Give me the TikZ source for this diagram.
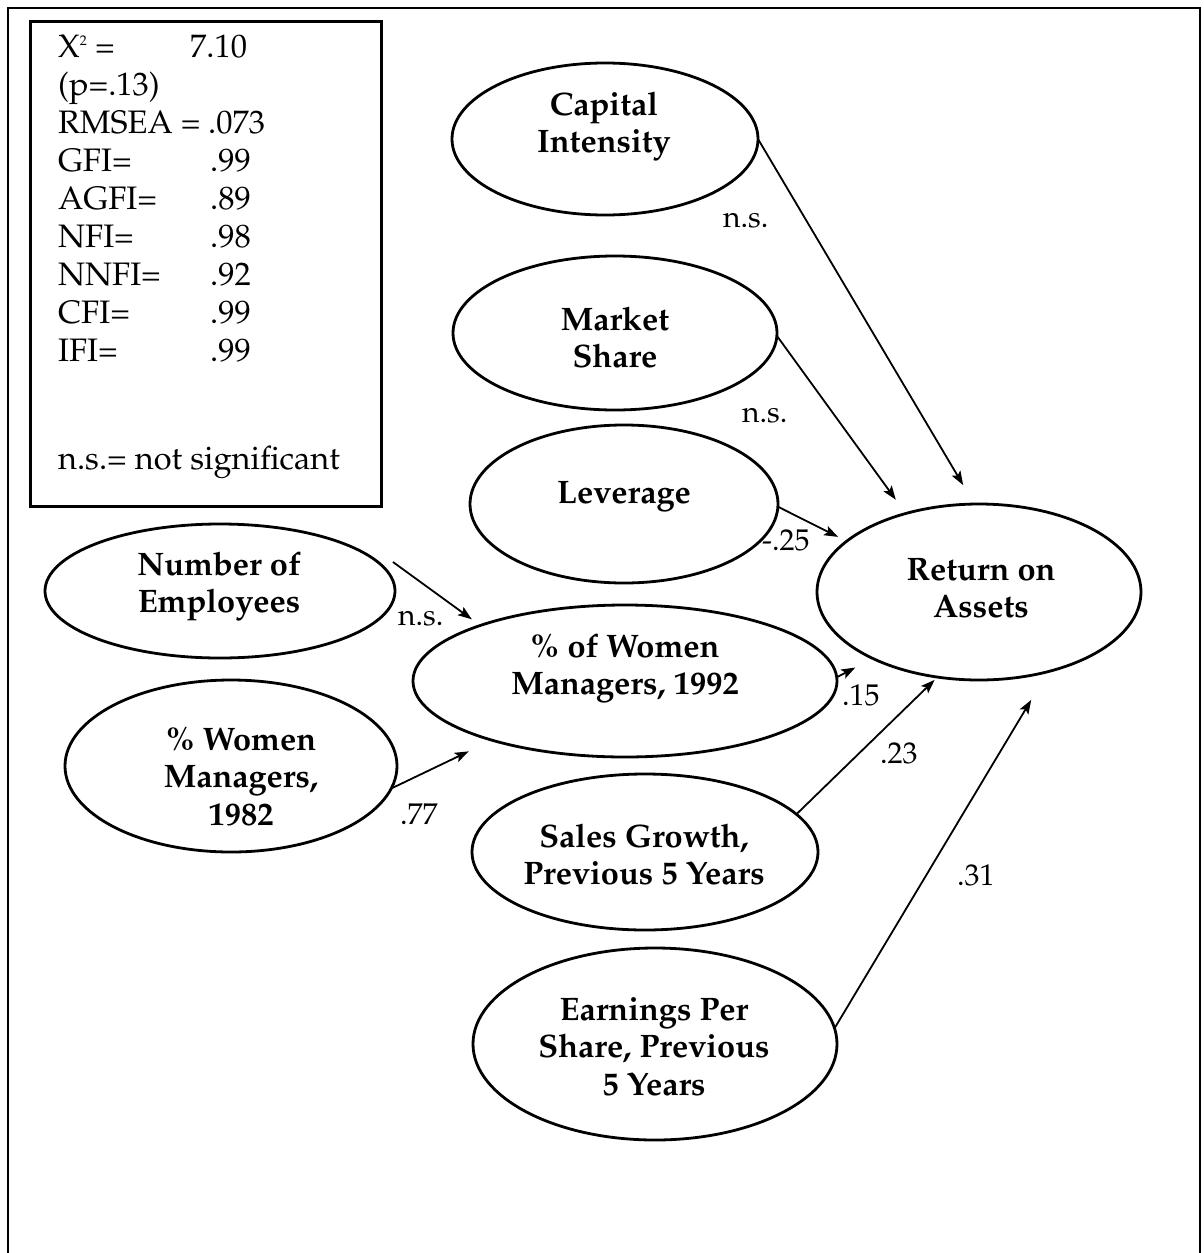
\documentclass[tikz,border=0pt]{standalone}
\usepackage[T1]{fontenc}
\usepackage{mathpazo}
\usetikzlibrary{shapes.geometric,arrows.meta}
\begin{document}
\begin{tikzpicture}[x=1pt,y=-1pt,
  lv/.style={ellipse,draw,line width=2.8pt,inner sep=0pt,outer sep=0pt},
  lvtext/.style={anchor=base,inner sep=0pt,font=\fontsize{32.5}{37.5}\selectfont\bfseries},
  stat/.style={anchor=base west,inner sep=0pt,font=\fontsize{32.5}{38}\selectfont},
  coef/.style={anchor=base west,inner sep=0pt,font=\fontsize{30}{36}\selectfont},
  arr/.style={line width=1.8pt,-{Stealth[length=14pt,width=10pt,inset=3pt]}}]
\useasboundingbox (0,0) rectangle (1204,1253);
\fill[white] (0,0) rectangle (1204,1253);
% outer frame
\draw[line width=2pt] (8,1253) -- (8,8) -- (1200,8) -- (1200,1253);

% fit statistics box
\node[draw,line width=2.6pt,inner sep=0pt,anchor=north west,minimum width=351pt,minimum height=485pt] (stats) at (29,20) {};
\node[stat] (s1) at (58,57) {X\raisebox{12pt}{\fontsize{14}{14}\selectfont 2} =};
\node[stat] (v1) at (190,57) {7.10};
\node[stat] (s2) at (58,95) {(p=.13)};
\node[stat] (s3) at (58,133) {RMSEA =};
\node[stat] (v3) at (208,133) {.073};
\node[stat] (s4) at (58,171) {GFI=};
\node[stat] (v4) at (210,171) {.99};
\node[stat] (s5) at (58,209) {AGFI=};
\node[stat] (v5) at (210,209) {.89};
\node[stat] (s6) at (58,247) {NFI=};
\node[stat] (v6) at (210,247) {.98};
\node[stat] (s7) at (58,285) {NNFI=};
\node[stat] (v7) at (210,285) {.92};
\node[stat] (s8) at (58,323) {CFI=};
\node[stat] (v8) at (210,323) {.99};
\node[stat] (s9) at (58,361) {IFI=};
\node[stat] (v9) at (210,361) {.99};
\node[stat] (s10) at (58,469) {n.s.= not significant};

% latent variables
\node[lv,minimum width=306pt,minimum height=152pt] (ci) at (605,139) {};
\node[lv,minimum width=324pt,minimum height=154pt] (ms) at (615,333) {};
\node[lv,minimum width=308pt,minimum height=158pt] (lev) at (624,504) {};
\node[lv,minimum width=350pt,minimum height=134pt] (noe) at (220,591) {};
\node[lv,minimum width=424pt,minimum height=152pt] (w92) at (625,681) {};
\node[lv,minimum width=332pt,minimum height=172pt] (w82) at (231,766) {};
\node[lv,minimum width=324pt,minimum height=176pt] (roa) at (979,592) {};
\node[lv,minimum width=346pt,minimum height=156pt] (sg) at (645,852) {};
\node[lv,minimum width=364pt,minimum height=192pt] (eps) at (655,1044) {};

\node[lvtext] (ciT) at (604,115) {\begin{tabular}[t]{@{}c@{}}Capital\\Intensity\end{tabular}};
\node[lvtext] (msT) at (615,330) {\begin{tabular}[t]{@{}c@{}}Market\\Share\end{tabular}};
\node[lvtext] (levT) at (624,503) {Leverage};
\node[lvtext] (noeT) at (219,575) {\begin{tabular}[t]{@{}c@{}}Number of\\Employees\end{tabular}};
\node[lvtext] (w92T) at (625,657) {\begin{tabular}[t]{@{}c@{}}\% of Women\\Managers, 1992\end{tabular}};
\node[lvtext] (w82T) at (241,750) {\begin{tabular}[t]{@{}c@{}}\% Women\\Managers,\\1982\end{tabular}};
\node[lvtext] (roaT) at (981,580) {\begin{tabular}[t]{@{}c@{}}Return on\\Assets\end{tabular}};
\node[lvtext] (sgT) at (644,847) {\begin{tabular}[t]{@{}c@{}}Sales Growth,\\Previous 5 Years\end{tabular}};
\node[lvtext] (epsT) at (654,1020) {\begin{tabular}[t]{@{}c@{}}Earnings Per\\Share, Previous\\5 Years\end{tabular}};

% paths
\draw[arr,shorten >=22pt] (ci.-0.5) -- (roa.93.3);
\draw[arr,shorten >=17pt] (ms.-1) -- (roa.133.3);
\draw[arr,shorten >=9.6pt] (lev.-1) -- (roa.159.4);
\draw[arr,shorten >=10.5pt] ([shift={(14,-1)}]noe.10) -- (w92.159.7);
\draw[arr,shorten >=25.8pt] (w82.-8.3) -- (w92.204);
\draw[arr,shorten >=19.6pt] (w92.1) -- (roa.212.6);
\draw[arr,shorten >=4pt] (sg.14.3) -- (roa.244.7);
\draw[arr,shorten >=33pt] (eps.5.4) -- (roa.-49.6);

% coefficients
\node[coef] (lci) at (723,227) {n.s.};
\node[coef] (lms) at (742,422) {n.s.};
\node[coef] (llev) at (762,550) {-.25};
\node[coef] (lnoe) at (398,625) {n.s.};
\node[coef] (l82) at (400,824) {.77};
\node[coef] (l92) at (842,705) {.15};
\node[coef] (lsg) at (880,763) {.23};
\node[coef] (leps) at (957,885) {.31};
\end{tikzpicture}
\end{document}
